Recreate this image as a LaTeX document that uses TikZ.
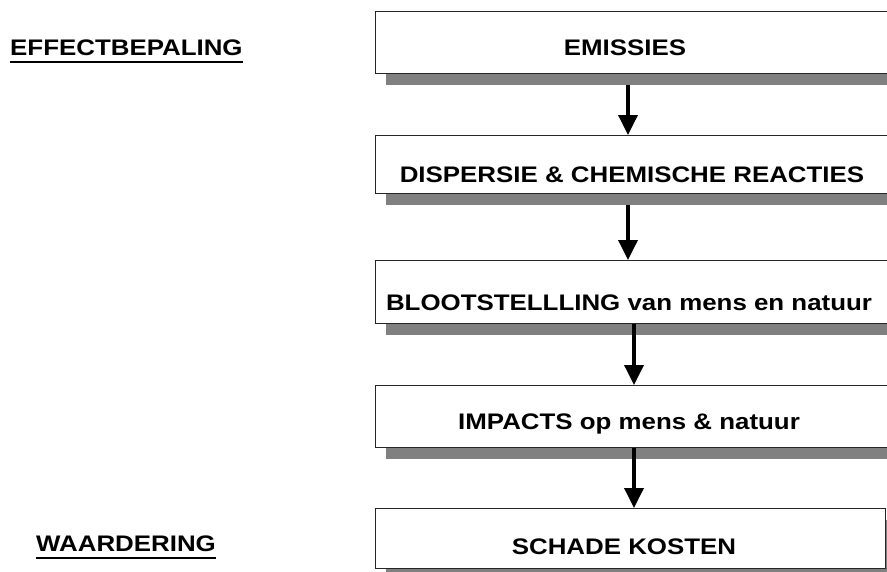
\documentclass[tikz,border=0pt]{standalone}
\usepackage{fontspec}
\setmainfont[FakeStretch=1.15]{Liberation Sans}
\usetikzlibrary{positioning,arrows.meta,shadows}
\tikzset{
    stagebox/.style={
        draw=black!85,line width=1.2pt,fill=white,minimum width=520pt,inner sep=0pt,anchor=north west,
        general shadow={fill=black!50,shadow xshift=10pt,shadow yshift=-11pt}
    },
    stagetext/.style={
        anchor=base,inner sep=0pt,font=\fontsize{22.5}{26}\selectfont\bfseries
    },
    sidetext/.style={
        anchor=base west,inner sep=0pt,font=\fontsize{22.5}{26}\selectfont\bfseries
    },
    flowarrow/.style={
        line width=3.6pt,-{Triangle[length=20pt,width=19pt]}
    }
}

\begin{document}
\begin{tikzpicture}[x=1pt,y=-1pt]
\useasboundingbox (0,0) rectangle (887,571);
\clip (0,0) rectangle (887,571);
\node[stagebox,minimum height=62pt] (e1) at (375,11) {};
\node[stagebox,minimum height=58pt] (e2) at (375,135) {};
\node[stagebox,minimum height=63pt] (e3) at (375,260) {};
\node[stagebox,minimum height=62pt] (e4) at (375,385) {};
\node[stagebox,minimum height=60pt,minimum width=510pt] (e5) at (375,508) {};

\node[stagetext] (t1) at (625,55) {EMISSIES};
\node[stagetext] (t2) at (632,182) {DISPERSIE \& CHEMISCHE REACTIES};
\node[stagetext] (t3) at (629,310) {BLOOTSTELLLING van mens en natuur};
\node[stagetext] (t4) at (629,429) {IMPACTS op mens \& natuur};
\node[stagetext] (t5) at (624,554) {SCHADE KOSTEN};

\node[sidetext] (eff) at (10,55) {EFFECTBEPALING};
\node[sidetext] (waa) at (36,551) {WAARDERING};
\draw[line width=2pt] ([yshift=-6.5pt]eff.base west) -- ([yshift=-6.5pt]eff.base east);
\draw[line width=2pt] ([yshift=-6.5pt]waa.base west) -- ([yshift=-6.5pt]waa.base east);

\coordinate (col1) at (628,0);
\coordinate (col2) at (634,0);
\draw[flowarrow] ([yshift=-11pt]e1.south -| col1) -- (e2.north -| col1);
\draw[flowarrow] ([yshift=-11pt]e2.south -| col1) -- (e3.north -| col1);
\draw[flowarrow] (e3.south -| col2) -- (e4.north -| col2);
\draw[flowarrow] (e4.south -| col2) -- (e5.north -| col2);
\end{tikzpicture}
\end{document}
